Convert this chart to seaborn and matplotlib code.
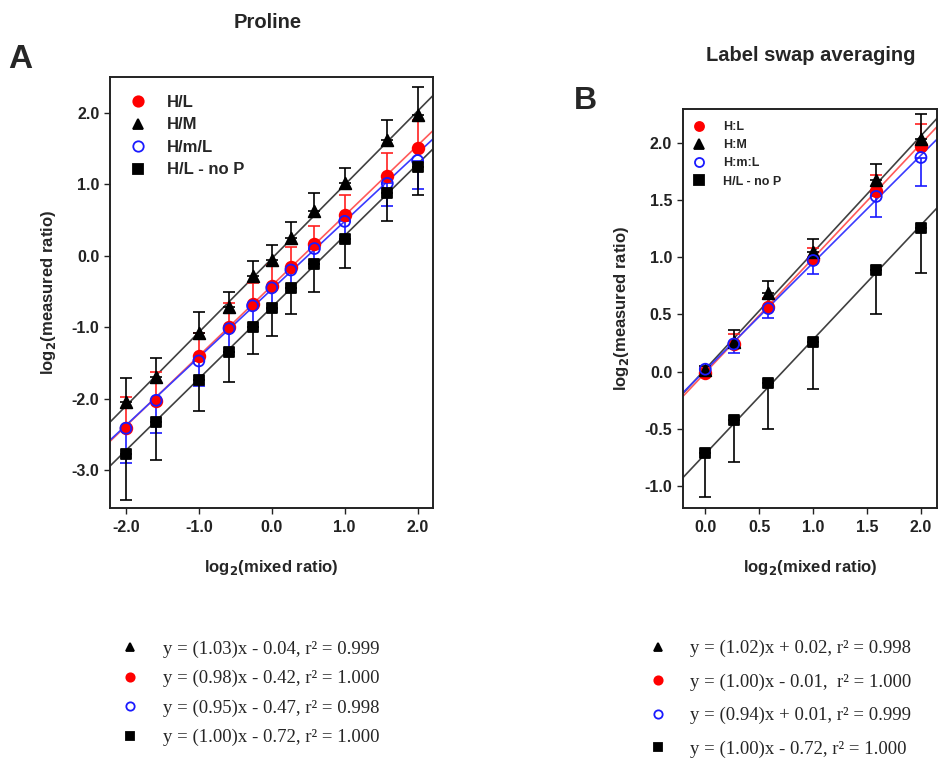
import numpy as np
import pandas as pd
import seaborn as sns
import matplotlib.pyplot as plt
from matplotlib.lines import Line2D
from matplotlib.ticker import FormatStrFormatter

# ---- panel A: proline ----
x_a = [-2.0, -1.585, -1.0, -0.585, -0.263, 0.0, 0.263, 0.585, 1.0, 1.585, 2.0]
hl_a = [-2.41, -2.03, -1.40, -1.00, -0.68, -0.43, -0.16, 0.17, 0.57, 1.11, 1.50]
hl_a_err = [0.43, 0.41, 0.32, 0.34, 0.30, 0.30, 0.28, 0.25, 0.28, 0.32, 0.40]
hm_a = [-2.05, -1.70, -1.08, -0.72, -0.29, -0.06, 0.25, 0.63, 1.01, 1.62, 1.97]
hm_a_err = [0.34, 0.27, 0.29, 0.22, 0.22, 0.21, 0.22, 0.25, 0.21, 0.27, 0.39]
hml_a = [-2.41, -2.02, -1.47, -1.02, -0.70, -0.45, -0.20, 0.10, 0.48, 1.01, 1.33]
hml_a_err = [0.49, 0.46, 0.35, 0.32, 0.30, 0.30, 0.25, 0.22, 0.25, 0.31, 0.40]
nop_a = [-2.77, -2.33, -1.73, -1.35, -1.00, -0.73, -0.45, -0.12, 0.23, 0.88, 1.24]
nop_a_err = [0.64, 0.52, 0.44, 0.42, 0.38, 0.39, 0.36, 0.39, 0.40, 0.39, 0.39]

# fits (slope, intercept) for H/M, H/L, H/m/L, no P
fit_a_slope = [1.03, 0.98, 0.95, 1.00]
fit_a_icpt = [-0.04, -0.42, -0.47, -0.72]
eq_a = ["y = (1.03)x - 0.04, r\u00b2 = 0.999",
        "y = (0.98)x - 0.42, r\u00b2 = 1.000",
        "y = (0.95)x - 0.47, r\u00b2 = 0.998",
        "y = (1.00)x - 0.72, r\u00b2 = 1.000"]

# ---- panel B: label swap averaging ----
x_b = [0.0, 0.263, 0.585, 1.0, 1.585, 2.0]
hl_b = [-0.01, 0.24, 0.56, 0.98, 1.58, 1.97]
hl_b_err = [0.05, 0.09, 0.08, 0.10, 0.14, 0.19]
hm_b = [0.01, 0.26, 0.69, 1.04, 1.67, 2.03]
hm_b_err = [0.04, 0.10, 0.10, 0.12, 0.14, 0.22]
hml_b = [0.02, 0.24, 0.55, 0.97, 1.53, 1.87]
hml_b_err = [0.04, 0.08, 0.08, 0.12, 0.18, 0.25]
nop_b = [-0.71, -0.42, -0.10, 0.26, 0.89, 1.25]
nop_b_err = [0.39, 0.37, 0.40, 0.41, 0.39, 0.39]

fit_b_slope = [1.02, 1.00, 0.94, 1.00]
fit_b_icpt = [0.02, -0.01, 0.01, -0.72]
eq_b = ["y = (1.02)x + 0.02, r\u00b2 = 0.998",
        "y = (1.00)x - 0.01,  r\u00b2 = 1.000",
        "y = (0.94)x + 0.01, r\u00b2 = 0.999",
        "y = (1.00)x - 0.72, r\u00b2 = 1.000"]

legend_a = ["H/L", "H/M", "H/m/L", "H/L - no P"]
legend_b = ["H:L", "H:M", "H:m:L", "H/L - no P"]

sns.set_style("ticks")
plt.rcParams['font.family'] = ['Liberation Sans', 'DejaVu Sans']
plt.rcParams['axes.unicode_minus'] = False

# styles in order H/L, H/M, H/m/L, no P
styles = [
    dict(marker='o', fc='#ff0000', ec='#ff0000', line='#ff5a5a', bar='#ff2020', up=True, s=70),
    dict(marker='^', fc='#000000', ec='#000000', line='#404040', bar='#000000', up=True, s=70),
    dict(marker='o', fc='none', ec='#1a1aff', line='#3a3aff', bar='#1a1aff', up=False, s=62),
    dict(marker='s', fc='#000000', ec='#000000', line='#404040', bar='#000000', up=False, s=55),
]
# fit lines listed as H/M, H/L, H/m/L, no P
fit_style_idx = [1, 0, 2, 3]


def draw_panel(ax, x, ys, errs, slopes, icpts, xlim, ylim, xticks, yticks):
    for i, k in enumerate(fit_style_idx):
        ax.axline((0, icpts[i]), slope=slopes[i], color=styles[k]['line'], lw=1.2, zorder=1)
    for y, e, st in zip(ys, errs, styles):
        zeros = np.zeros(len(e))
        yerr = [zeros, e] if st['up'] else [e, zeros]
        ax.errorbar(x, y, yerr=yerr, fmt='none', ecolor=st['bar'], elinewidth=1.2,
                    capsize=4, capthick=1.2, zorder=2)
    for y, st in zip(ys, styles):
        df = pd.DataFrame({'x': x, 'y': y})
        sns.scatterplot(data=df, x='x', y='y', marker=st['marker'], s=st['s'],
                        color=st['ec'], facecolor=st['fc'], edgecolor=st['ec'],
                        linewidth=1.3, ax=ax, zorder=3)
    ax.set_xlim(*xlim)
    ax.set_ylim(*ylim)
    ax.set_xticks(xticks)
    ax.set_yticks(yticks)
    ax.xaxis.set_major_formatter(FormatStrFormatter('%.1f'))
    ax.yaxis.set_major_formatter(FormatStrFormatter('%.1f'))
    for sp in ax.spines.values():
        sp.set_visible(True)
        sp.set_linewidth(1.4)
        sp.set_color('#222222')
    ax.tick_params(direction='out', length=4, width=1, colors='#222222', labelsize=11.5)
    ax.tick_params(axis='x', pad=5)
    for lab in ax.get_xticklabels() + ax.get_yticklabels():
        lab.set_fontweight('bold')
    ax.set_xlabel("log$_\\mathbf{2}$(mixed ratio)", fontsize=12, fontweight='bold', labelpad=16.5)
    ax.set_ylabel("log$_\\mathbf{2}$(measured ratio)", fontsize=12, fontweight='bold', labelpad=10)


def marker_handles(ms):
    hs = []
    for st in styles:
        hs.append(Line2D([], [], ls='none', marker=st['marker'], markersize=ms,
                         markerfacecolor=st['fc'], markeredgecolor=st['ec'], markeredgewidth=1.3))
    return hs


fig = plt.figure(figsize=(9.39, 7.6), dpi=100)
ax_a = fig.add_axes([0.117, 0.332, 0.344, 0.567])
ax_b = fig.add_axes([0.727, 0.332, 0.271, 0.524])

draw_panel(ax_a, x_a, [hl_a, hm_a, hml_a, nop_a], [hl_a_err, hm_a_err, hml_a_err, nop_a_err],
           fit_a_slope, fit_a_icpt, (-2.22, 2.21), (-3.52, 2.5),
           [-2.0, -1.0, 0.0, 1.0, 2.0], [-3.0, -2.0, -1.0, 0.0, 1.0, 2.0])
draw_panel(ax_b, x_b, [hl_b, hm_b, hml_b, nop_b], [hl_b_err, hm_b_err, hml_b_err, nop_b_err],
           fit_b_slope, fit_b_icpt, (-0.21, 2.15), (-1.19, 2.29),
           [0.0, 0.5, 1.0, 1.5, 2.0], [-1.0, -0.5, 0.0, 0.5, 1.0, 1.5, 2.0])

ax_a.legend(marker_handles(7.5), legend_a, loc='upper left', bbox_to_anchor=(0.056, 0.958),
            frameon=False, prop={'weight': 'bold', 'size': 12}, borderpad=0, borderaxespad=0,
            handlelength=1.2, handletextpad=1.14, labelspacing=0.45)
ax_b.legend(marker_handles(6.5), legend_b, loc='upper left', bbox_to_anchor=(0.038, 0.971),
            frameon=False, prop={'weight': 'bold', 'size': 9}, borderpad=0, borderaxespad=0,
            handlelength=1.0, handletextpad=1.44, labelspacing=0.5)

# equation keys below the panels (triangle, circle, open circle, square)
eq_order = [1, 0, 2, 3]
eq_handles = [marker_handles(6)[k] for k in eq_order]
serif = {'family': 'Liberation Serif', 'size': 13.5}
fig.legend(eq_handles, eq_a, loc='upper left', bbox_to_anchor=(0.1285, 0.157),
           frameon=False, prop=serif, borderpad=0, borderaxespad=0, handlelength=1.0,
           handletextpad=1.26, labelspacing=0.65)
fig.legend(eq_handles, eq_b, loc='upper left', bbox_to_anchor=(0.6907, 0.158),
           frameon=False, prop=serif, borderpad=0, borderaxespad=0, handlelength=1.0,
           handletextpad=1.2, labelspacing=0.87)

fig.text(0.285, 0.971, "Proline", ha='center', va='center', fontsize=14.5, fontweight='bold')
fig.text(0.863, 0.927, "Label swap averaging", ha='center', va='center', fontsize=14.5, fontweight='bold')
fig.text(0.022, 0.922, "A", ha='center', va='center', fontsize=24, fontweight='bold')
fig.text(0.624, 0.867, "B", ha='center', va='center', fontsize=23, fontweight='bold')

plt.savefig('out.png', dpi=100)
